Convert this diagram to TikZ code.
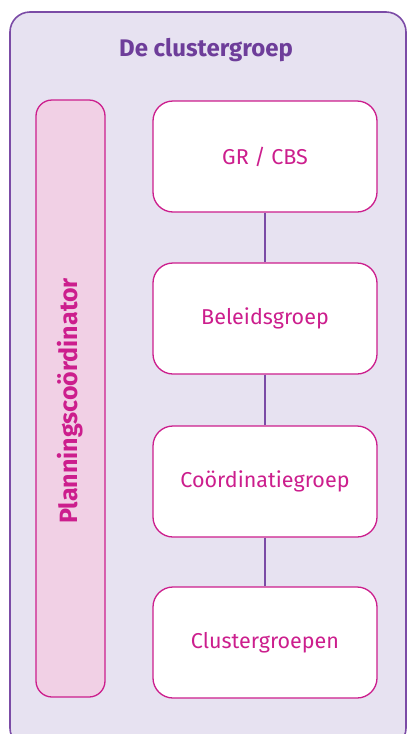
\documentclass[tikz,border=0pt]{standalone}
\usepackage{fontspec}
\setmainfont{Fira Sans}
\definecolor{panelbg}{HTML}{E7E2F1}
\definecolor{panelline}{HTML}{7B4BA6}
\definecolor{titlecol}{HTML}{6E3D9A}
\definecolor{magenta}{HTML}{CC1E8D}
\definecolor{pinkfill}{HTML}{F1D0E5}
\begin{document}
\begin{tikzpicture}[x=1pt,y=-1pt,
  level/.style={draw=magenta,line width=1.3pt,fill=white,rounded corners=20pt,
    minimum width=224pt,minimum height=111pt,text=magenta,font=\fontsize{21.5}{24}\selectfont},
  sidebar/.style={draw=magenta,line width=1.3pt,fill=pinkfill,rounded corners=16pt,
    minimum width=69pt,minimum height=597pt},
  link/.style={draw=panelline,line width=2.6pt}]
\useasboundingbox (0,0) rectangle (407,734);
\begin{scope}
\clip (0,0) rectangle (407,734);
\draw[draw=panelline,line width=1.6pt,fill=panelbg,rounded corners=20pt] (10,12) rectangle (406,748);
\end{scope}
\node[text=titlecol,font=\bfseries\fontsize{24}{28}\selectfont] (title) at (206,50) {De clustergroep};
\node[sidebar] (side) at (70.5,398.5) {};
\node[rotate=90,text=magenta,font=\bfseries\fontsize{25}{28}\selectfont] (sidelabel) at (70.5,401) {Planningscoördinator};
\node[level] (gr) at (265,156.5) {GR / CBS};
\node[level] (bg) at (265,318.5) {Beleidsgroep};
\node[level] (cg) at (265,481.5) {Coördinatiegroep};
\node[level] (cl) at (265,642.5) {Clustergroepen};
\draw[link] (gr.south) -- (bg.north);
\draw[link] (bg.south) -- (cg.north);
\draw[link] (cg.south) -- (cl.north);
\end{tikzpicture}
\end{document}
